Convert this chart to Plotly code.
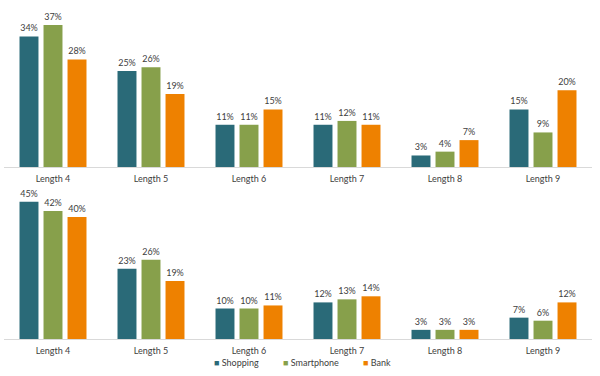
import plotly.graph_objects as go

categories = ["Length 4", "Length 5", "Length 6", "Length 7", "Length 8", "Length 9"]
series_names = ["Shopping", "Smartphone", "Bank"]
top_shopping = [34, 25, 11, 11, 3, 15]
top_smartphone = [37, 26, 11, 12, 4, 9]
top_bank = [28, 19, 15, 11, 7, 20]
bottom_shopping = [45, 23, 10, 12, 3, 7]
bottom_smartphone = [42, 26, 10, 13, 3, 6]
bottom_bank = [40, 19, 11, 14, 3, 12]
colors = ["#2a6a78", "#87a04b", "#ee8100"]

FONT = "Lato"
TXT = "#404040"

fig = go.Figure()
top = [top_shopping, top_smartphone, top_bank]
bot = [bottom_shopping, bottom_smartphone, bottom_bank]
for i, name in enumerate(series_names):
    fig.add_trace(go.Bar(x=categories, y=top[i], name=name, marker_color=colors[i],
                         text=[f"{v}%" for v in top[i]], textposition="outside",
                         textfont=dict(family=FONT, size=9, color=TXT),
                         cliponaxis=False, showlegend=False, xaxis="x", yaxis="y",
                         marker_line_width=0, hoverinfo="skip"))
    fig.add_trace(go.Bar(x=categories, y=bot[i], name=name, marker_color=colors[i],
                         text=[f"{v}%" for v in bot[i]], textposition="outside",
                         textfont=dict(family=FONT, size=9, color=TXT),
                         cliponaxis=False, showlegend=False, xaxis="x2", yaxis="y2",
                         marker_line_width=0, hoverinfo="skip"))
legend_ids = ["legend", "legend2", "legend3"]
for i, name in enumerate(series_names):
    fig.add_trace(go.Scatter(x=[None], y=[None], mode="markers",
                             name=f"<span style='color:{colors[i]}'>■</span> {name}",
                             marker=dict(symbol="square", size=0, color="rgba(0,0,0,0)"),
                             xaxis="x2", yaxis="y2", showlegend=True,
                             legend=legend_ids[i]))

xa = dict(domain=[4/600, 592/600], showline=True, linecolor="#d9d9d9", linewidth=1,
          ticks="", showgrid=False, tickfont=dict(family=FONT, size=9, color=TXT),
          ticklabelstandoff=3, fixedrange=True)
leg = dict(orientation="h", xanchor="left", yanchor="middle",
           font=dict(family=FONT, size=9, color=TXT), itemwidth=30,
           bgcolor="rgba(0,0,0,0)", borderwidth=0)
text_starts = [214, 283, 363]
ly = 1 - 362 / 376
fig.update_layout(
    width=600, height=376,
    margin=dict(l=0, r=0, t=0, b=0, autoexpand=False),
    paper_bgcolor="white", plot_bgcolor="white",
    barmode="group", bargap=0.265, bargroupgap=0.21,
    xaxis=dict(xa, anchor="y"),
    xaxis2=dict(xa, anchor="y2"),
    yaxis=dict(domain=[(376-167)/376, (376-10)/376], range=[0, 157/3.84], visible=False, fixedrange=True),
    yaxis2=dict(domain=[(376-339)/376, (376-190)/376], range=[0, 149/3.05], visible=False, fixedrange=True),
    legend=dict(leg, x=(text_starts[0]-40)/600, y=ly),
    legend2=dict(leg, x=(text_starts[1]-40)/600, y=ly),
    legend3=dict(leg, x=(text_starts[2]-40)/600, y=ly),
    font=dict(family=FONT),
)
fig.write_html("out.html", config={"displayModeBar": False},
               post_script="document.body.style.margin='0';document.body.style.padding='0';")
